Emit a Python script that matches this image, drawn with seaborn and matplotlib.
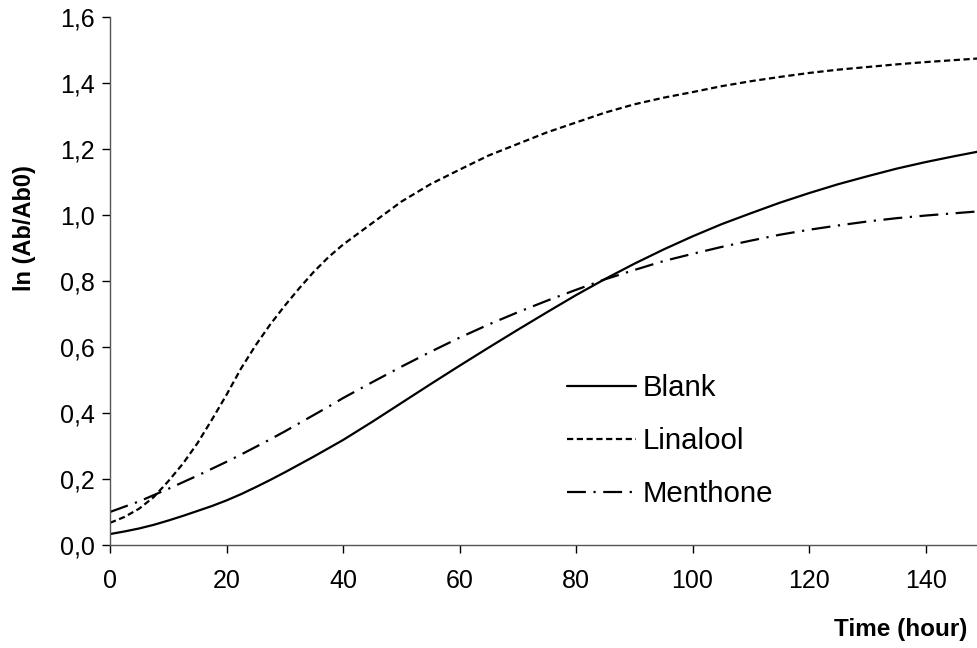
import pandas as pd
import seaborn as sns
import matplotlib.pyplot as plt
from matplotlib.ticker import FuncFormatter

# values: every 2.5 h up to 40 h, then every 5 h
time_h = [i * 2.5 for i in range(17)] + list(range(45, 155, 5))
blank = [0.033, 0.041, 0.050, 0.061, 0.074, 0.088, 0.103, 0.118, 0.135, 0.154,
         0.175, 0.197, 0.220, 0.244, 0.268, 0.293, 0.318,
         0.373, 0.430, 0.487, 0.543, 0.598, 0.652, 0.705, 0.757, 0.806, 0.852,
         0.895, 0.935, 0.972, 1.005, 1.037, 1.066, 1.093, 1.117, 1.140, 1.160,
         1.178, 1.195]
linalool = [0.067, 0.085, 0.110, 0.145, 0.193, 0.246, 0.308, 0.380, 0.455, 0.535,
            0.605, 0.668, 0.725, 0.778, 0.828, 0.872, 0.910,
            0.975, 1.040, 1.093, 1.137, 1.180, 1.215, 1.250, 1.280, 1.310, 1.335,
            1.355, 1.372, 1.390, 1.405, 1.418, 1.430, 1.440, 1.448, 1.456, 1.463,
            1.469, 1.475]
menthone = [0.100, 0.116, 0.132, 0.151, 0.170, 0.190, 0.210, 0.231, 0.252, 0.274,
            0.297, 0.320, 0.344, 0.369, 0.394, 0.419, 0.445,
            0.493, 0.540, 0.585, 0.628, 0.668, 0.705, 0.740, 0.773, 0.805, 0.833,
            0.860, 0.882, 0.903, 0.922, 0.940, 0.955, 0.968, 0.980, 0.990, 0.998,
            1.005, 1.012]
series = ["Blank", "Linalool", "Menthone"]

df = pd.DataFrame({
    "time": time_h * 3,
    "value": blank + linalool + menthone,
    "series": [s for s in series for _ in time_h],
})

sns.set_theme(style="ticks")
plt.rcParams["font.family"] = ["Liberation Sans", "DejaVu Sans"]
plt.rcParams["text.color"] = "black"
plt.rcParams["axes.labelcolor"] = "black"

fig = plt.figure(figsize=(9.78, 6.48), dpi=100)
ax = fig.add_axes([0.1125, 0.159, 0.8875, 0.815])

sns.lineplot(data=df, x="time", y="value", hue="series", style="series",
             palette={s: "black" for s in series},
             dashes={"Blank": "", "Linalool": (2.8, 1.6), "Menthone": (8.5, 3.4, 1.0, 3.4)},
             linewidth=1.6, ax=ax)

ax.set_xlim(0, 149)
ax.set_ylim(0, 1.6)
ax.set_xticks(range(0, 141, 20))
ax.set_yticks([i * 0.2 for i in range(9)])
ax.yaxis.set_major_formatter(FuncFormatter(lambda v, p: f"{v:.1f}".replace(".", ",")))
ax.tick_params(labelsize=18, colors="black", length=6, width=1, direction="out")
ax.tick_params(axis="x", pad=11)
ax.tick_params(axis="y", pad=5)
for side in ["top", "right"]:
    ax.spines[side].set_visible(False)
for side in ["left", "bottom"]:
    ax.spines[side].set_color("#555555")
    ax.spines[side].set_linewidth(1)

ax.set_xlabel("Time (hour)", fontsize=17.5, fontweight="bold", ha="right")
ax.xaxis.set_label_coords(0.988, -0.138)
ax.set_ylabel("ln (Ab/Ab0)", fontsize=17, fontweight="bold")
ax.yaxis.set_label_coords(-0.085, 0.60)

ax.legend(loc="center left", bbox_to_anchor=(0.526, 0.196), frameon=False,
          fontsize=21.2, handlelength=2.37, handletextpad=0.2, labelspacing=0.85,
          borderpad=0, borderaxespad=0, labelcolor="black")

plt.savefig("out.png", dpi=100)
plt.close()
